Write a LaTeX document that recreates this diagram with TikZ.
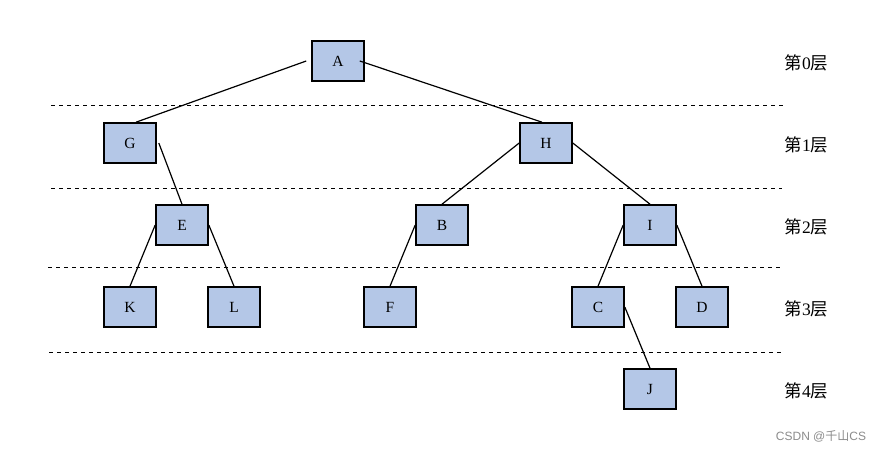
\documentclass[tikz,border=0pt]{standalone}
\usepackage{fontspec}
\setmainfont{Liberation Serif}
\newfontfamily\cjk{Noto Sans CJK SC}
\newfontfamily\wmfont{Liberation Sans}
\begin{document}
\begin{tikzpicture}[x=1pt,y=-1pt,
  tnode/.style={draw=black,line width=1.6pt,fill={rgb,255:red,180;green,199;blue,231},minimum width=52pt,minimum height=40pt,inner sep=0pt,font=\fontsize{15.5}{17}\selectfont},
  edge/.style={line width=1.2pt},
  sep/.style={dashed,dash pattern=on 4pt off 4pt,line width=1pt},
  lvl/.style={font=\fontsize{17.5}{19}\selectfont}]
\useasboundingbox[fill=white] (0,0) rectangle (885,452);
\node[tnode] (A) at (338,61) {A};
\node[tnode] (G) at (130,143) {G};
\node[tnode] (H) at (546,143) {H};
\node[tnode] (E) at (182,225) {E};
\node[tnode] (B) at (442,225) {B};
\node[tnode] (I) at (650,225) {I};
\node[tnode] (K) at (130,307) {K};
\node[tnode] (L) at (234,307) {L};
\node[tnode] (F) at (390,307) {F};
\node[tnode] (C) at (598,307) {C};
\node[tnode] (D) at (702,307) {D};
\node[tnode] (J) at (650,389) {J};
\coordinate (s1a) at (51,105); \coordinate (s1b) at (783,105);
\coordinate (s2a) at (51,188); \coordinate (s2b) at (782,188);
\coordinate (s3a) at (48,267.5); \coordinate (s3b) at (781,267.5);
\coordinate (s4a) at (49,352); \coordinate (s4b) at (782,352);
\draw[sep] (s1a) -- (s1b);
\draw[sep] (s2a) -- (s2b);
\draw[sep] (s3a) -- (s3b);
\draw[sep] (s4a) -- (s4b);
\draw[edge] ([xshift=-5pt]A.west) -- ([xshift=6pt]G.north);
\draw[edge] ([xshift=-5pt]A.east) -- ([xshift=-4pt]H.north);
\draw[edge] ([xshift=2pt]G.east) -- (E.north);
\draw[edge] (H.west) -- (B.north);
\draw[edge] (H.east) -- (I.north);
\draw[edge] (E.west) -- (K.north);
\draw[edge] (E.east) -- (L.north);
\draw[edge] (B.west) -- (F.north);
\draw[edge] (I.west) -- (C.north);
\draw[edge] (I.east) -- (D.north);
\draw[edge] (C.east) -- (J.north);
\node[lvl] (l0) at (806.5,63) {{\cjk 第}0{\cjk 层}};
\node[lvl] (l1) at (806.5,145) {{\cjk 第}1{\cjk 层}};
\node[lvl] (l2) at (806.5,227) {{\cjk 第}2{\cjk 层}};
\node[lvl] (l3) at (806.5,309) {{\cjk 第}3{\cjk 层}};
\node[lvl] (l4) at (806.5,391) {{\cjk 第}4{\cjk 层}};
\node[text=black!45,font=\wmfont\fontsize{12}{14}\selectfont] (wm) at (821,436) {CSDN @{\cjk 千山}CS};
\end{tikzpicture}
\end{document}
